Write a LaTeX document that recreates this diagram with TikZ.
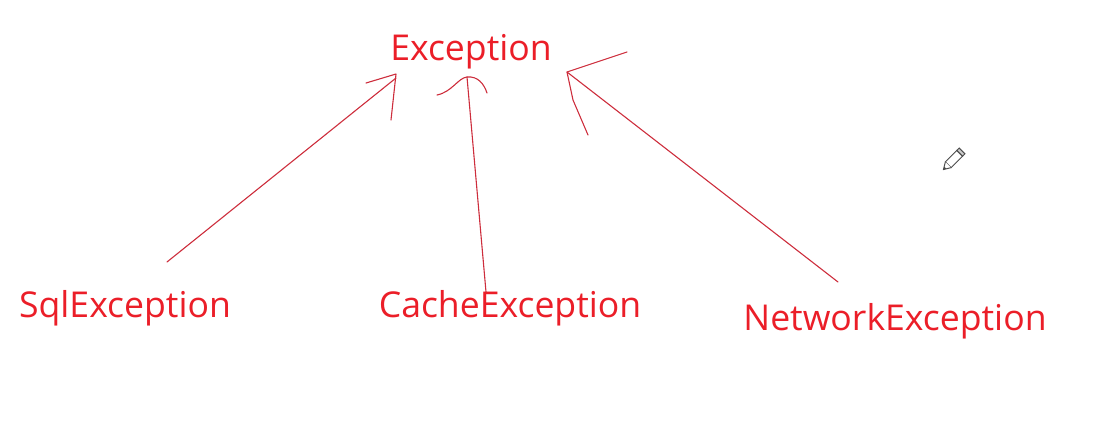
\documentclass[tikz,border=0pt]{standalone}
\usepackage{fontspec}
\setmainfont{Open Sans}
\definecolor{txtred}{RGB}{235,30,40}
\definecolor{linered}{RGB}{205,45,60}
\begin{document}
\begin{tikzpicture}[x=1pt,y=-1pt,
  lbl/.style={text=txtred,font=\fontsize{35.6}{42}\selectfont,inner sep=0pt,anchor=base},
  stroke/.style={draw=linered,line width=1.1pt,line cap=round,line join=round}]
\useasboundingbox (0,0) rectangle (1104,423);
\node[lbl] (exc) at (471,60) {Exception};
\node[lbl] (sql) at (125,317) {SqlException};
\node[lbl] (cache) at (510,317) {CacheException};
\node[lbl] (net) at (895,330) {NetworkException};
% arrow 1
\coordinate (a1s) at (167,262);
\coordinate (a1t) at (396,78);
\draw[stroke] (a1s) -- (a1t);
\draw[stroke] (366,83) -- (396,74) -- (391,120);
% arrow 2
\coordinate (a2s) at (486,292);
\coordinate (a2t) at (467,77);
\draw[stroke] (a2s) -- (a2t);
\draw[stroke] (437,95) .. controls (452,92) and (458,78) .. (467,77) .. controls (478,76) and (484,84) .. (487,93);
% arrow 3
\coordinate (a3s) at (838,282);
\coordinate (a3t) at (567,72);
\draw[stroke] (a3s) -- (a3t);
\draw[stroke] (627,52) -- (567,72) -- (573,100) -- (588,135);
% pencil icon
\begin{scope}[shift={(953,160)},rotate=45,scale=1.35]
  \draw[gray!60!black,line width=1pt,fill=white] (-5,-3) rectangle (7,3);
  \draw[gray!60!black,line width=1pt,fill=gray!40] (7,-3) rectangle (9.5,3);
  \draw[gray!60!black,line width=1pt,fill=white] (-5,-3) -- (-10,0) -- (-5,3);
  \fill[gray!60!black] (-10,0) -- (-8,-1) -- (-8,1) -- cycle;
\end{scope}
\end{tikzpicture}
\end{document}
